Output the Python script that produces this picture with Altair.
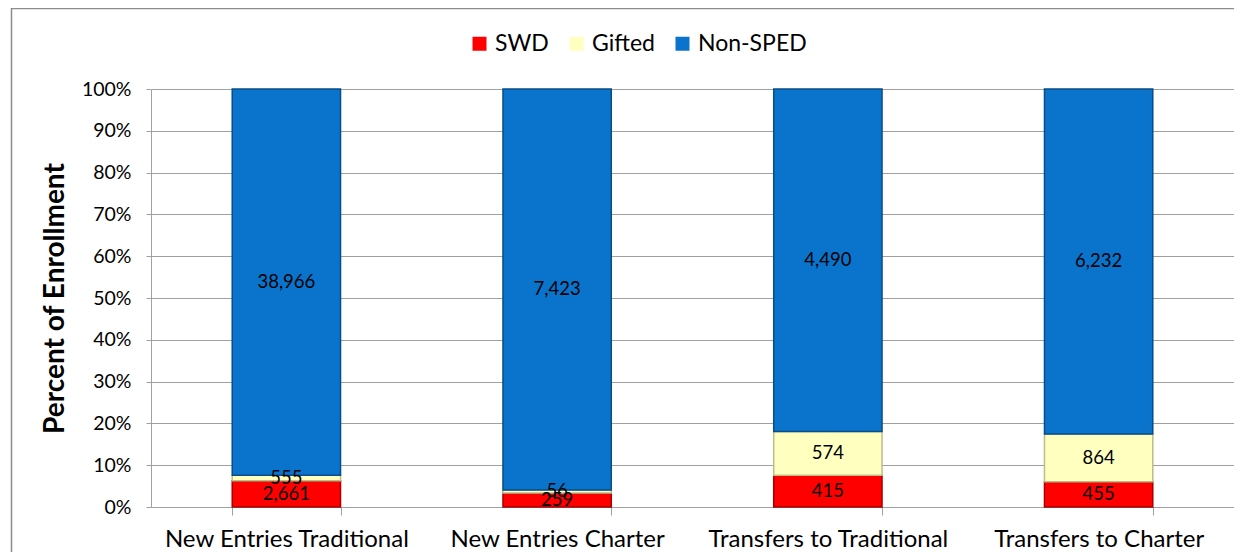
import altair as alt
import pandas as pd

categories = ["New Entries Traditional", "New Entries Charter",
              "Transfers to Traditional", "Transfers to Charter"]
groups = ["SWD", "Gifted", "Non-SPED"]
swd = [2661, 259, 415, 455]
gifted = [555, 56, 574, 864]
non_sped = [38966, 7423, 4490, 6232]
y_ticks = [0, 0.1, 0.2, 0.3, 0.4, 0.5, 0.6, 0.7, 0.8, 0.9, 1.0]

fill_colors = ["#FF0000", "#FFFFC0", "#0A74CC"]
edge_colors = ["#A80000", "#BDBD8A", "#0A4C86"]

rows = []
for i, c in enumerate(categories):
    for j, (g, vals) in enumerate(zip(groups, [swd, gifted, non_sped])):
        rows.append({"category": c, "group": g, "order": j, "value": vals[i]})
df = pd.DataFrame(rows)

FONT = "Lato"

base = alt.Chart(df).transform_stack(
    stack="value", groupby=["category"], as_=["y0", "y1"],
    offset="normalize", sort=[alt.SortField("order", "ascending")]
).transform_calculate(mid="(datum.y0 + datum.y1) / 2")

x_enc = alt.X(
    "category:N", sort=categories, title=None,
    scale=alt.Scale(paddingInner=0.6, paddingOuter=0.3),
    axis=alt.Axis(labelAngle=0, labelFont=FONT, labelFontSize=24, labelColor="black",
                  labelLimit=0, tickBand="extent", tickSize=8, tickColor="#A0A0A0",
                  domainColor="#A0A0A0", labelPadding=12, grid=False),
)
y_scale = alt.Scale(domain=[0, 1], nice=False)

bars = base.mark_bar(strokeWidth=1.5).encode(
    x=x_enc,
    y=alt.Y("y0:Q", scale=y_scale,
            axis=alt.Axis(values=y_ticks, format=".0%", title="Percent of Enrollment",
                          titleFont=FONT, titleFontSize=28, titleFontWeight="bold",
                          titleColor="black", titlePadding=12,
                          labelFont=FONT, labelFontSize=19.5, labelColor="black",
                          labelPadding=15, tickSize=5, tickColor="#A0A0A0",
                          domainColor="#A0A0A0", grid=True, gridColor="#A0A0A0")),
    y2="y1:Q",
    color=alt.Color("group:N", scale=alt.Scale(domain=groups, range=fill_colors),
                    legend=alt.Legend(title=None, orient="none", legendX=317, legendY=-57,
                                      direction="horizontal", symbolType="square",
                                      symbolSize=196, symbolStrokeWidth=0,
                                      labelFont=FONT, labelFontSize=23, labelColor="black",
                                      labelOffset=4, columnPadding=16, padding=0)),
    stroke=alt.Stroke("group:N", scale=alt.Scale(domain=groups, range=edge_colors), legend=None),
)

labels = base.mark_text(font=FONT, fontSize=18.5, color="black").encode(
    x=alt.X("category:N", sort=categories),
    y=alt.Y("mid:Q", scale=y_scale),
    text=alt.Text("value:Q", format=","),
)

frame = alt.Chart(pd.DataFrame({"a": [0]})).mark_rect(
    fill="transparent", stroke="#8C8C8C", strokeWidth=1.5
).encode(x=alt.value(-139.5), x2=alt.value(1200), y=alt.value(-80.5), y2=alt.value(500))

chart = alt.layer(frame, bars, labels).properties(
    width=1083, height=418,
    autosize=alt.AutoSizeParams(type="none"),
    padding={"left": 143, "top": 81, "right": 0, "bottom": 45},
).configure_view(stroke=None)

chart.save("out.html", embed_options={"renderer": "svg", "actions": False})
